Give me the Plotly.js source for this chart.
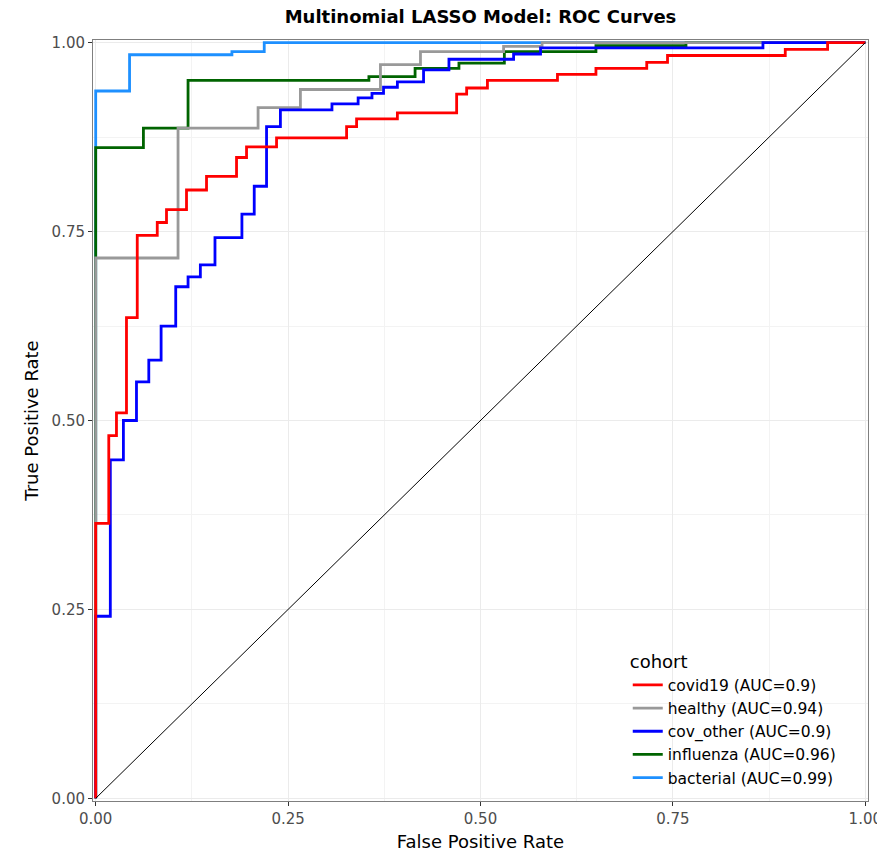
<!DOCTYPE html>
<html>
<head>
<meta charset="utf-8">
<script src="https://cdn.plot.ly/plotly-3.0.1.min.js"></script>
<style>html,body{margin:0;padding:0;background:#fff;}#chart{width:877px;height:852px;}</style>
</head>
<body>
<div id="chart"></div>
<script>
// ROC step vertices
const covid19Fpr = [0,0,0.017,0.017,0.027,0.027,0.040,0.040,0.054,0.054,0.080,0.080,0.092,0.092,0.118,0.118,0.144,0.144,0.183,0.183,0.196,0.196,0.235,0.235,0.326,0.326,0.339,0.339,0.392,0.392,0.469,0.469,0.482,0.482,0.509,0.509,0.600,0.600,0.650,0.650,0.716,0.716,0.743,0.743,0.896,0.896,0.951,0.951,1];
const covid19Tpr = [0,0.364,0.364,0.480,0.480,0.510,0.510,0.636,0.636,0.745,0.745,0.762,0.762,0.779,0.779,0.805,0.805,0.823,0.823,0.848,0.848,0.862,0.862,0.874,0.874,0.889,0.889,0.899,0.899,0.907,0.907,0.932,0.932,0.940,0.940,0.950,0.950,0.958,0.958,0.966,0.966,0.974,0.974,0.983,0.983,0.991,0.991,1,1];

const healthyFpr = [0,0,0.107,0.107,0.211,0.211,0.266,0.266,0.370,0.370,0.422,0.422,0.530,0.530,0.580,0.580,1];
const healthyTpr = [0,0.715,0.715,0.887,0.887,0.914,0.914,0.938,0.938,0.971,0.971,0.988,0.988,0.995,0.995,1,1];

const covOtherFpr = [0,0,0.019,0.019,0.036,0.036,0.053,0.053,0.069,0.069,0.085,0.085,0.104,0.104,0.120,0.120,0.136,0.136,0.155,0.155,0.190,0.190,0.206,0.206,0.222,0.222,0.240,0.240,0.307,0.307,0.341,0.341,0.359,0.359,0.374,0.374,0.392,0.392,0.426,0.426,0.459,0.459,0.543,0.543,0.578,0.578,0.867,0.867,1];
const covOtherTpr = [0,0.241,0.241,0.448,0.448,0.500,0.500,0.551,0.551,0.580,0.580,0.625,0.625,0.677,0.677,0.690,0.690,0.706,0.706,0.742,0.742,0.773,0.773,0.810,0.810,0.889,0.889,0.911,0.911,0.919,0.919,0.927,0.927,0.933,0.933,0.941,0.941,0.948,0.948,0.964,0.964,0.978,0.978,0.985,0.985,0.993,0.993,1,1];

const influenzaFpr = [0,0,0.062,0.062,0.120,0.120,0.355,0.355,0.415,0.415,0.472,0.472,0.531,0.531,0.650,0.650,0.767,0.767,1];
const influenzaTpr = [0,0.861,0.861,0.887,0.887,0.950,0.950,0.955,0.955,0.966,0.966,0.973,0.973,0.988,0.988,0.996,0.996,1,1];

const bacterialFpr = [0,0,0.044,0.044,0.177,0.177,0.219,0.219,1];
const bacterialTpr = [0,0.936,0.936,0.984,0.984,0.988,0.988,1,1];

const diagX = [0,1];
const diagY = [0,1];

const tickVals = [0,0.25,0.5,0.75,1];
const tickText = ["0.00","0.25","0.50","0.75","1.00"];

const FONT = "DejaVu Sans, Liberation Sans, Arial, sans-serif";

function roc(x, y, name, color, rank){
  return {x:x, y:y, type:'scatter', mode:'lines', name:name, legendrank:rank,
          line:{color:color, width:2.8}, hoverinfo:'x+y+name'};
}

const data = [
  roc(bacterialFpr, bacterialTpr, 'bacterial (AUC=0.99)', '#1E90FF', 5),
  roc(influenzaFpr, influenzaTpr, 'influenza (AUC=0.96)', '#006400', 4),
  roc(healthyFpr, healthyTpr, 'healthy (AUC=0.94)', '#999999', 2),
  roc(covOtherFpr, covOtherTpr, 'cov_other (AUC=0.9)', '#0000FF', 3),
  roc(covid19Fpr, covid19Tpr, 'covid19 (AUC=0.9)', '#FF0000', 1),
  {x:diagX, y:diagY, type:'scatter', mode:'lines', showlegend:false,
   line:{color:'#000000', width:1}, hoverinfo:'skip'}
];

const axisCommon = {
  range:[-0.0035,1.0035], tickvals:tickVals, ticktext:tickText,
  ticks:'outside', ticklen:4, tickwidth:1, tickcolor:'#333333',
  tickfont:{family:FONT, size:15, color:'#4D4D4D'},
  ticklabeloverflow:'allow',
  showgrid:true, gridcolor:'#EBEBEB', gridwidth:1,
  minor:{dtick:0.125, showgrid:true, gridcolor:'#F3F3F3', gridwidth:1, ticks:''},
  zeroline:false, showline:true, linecolor:'#7F7F7F', linewidth:1, mirror:true,
  automargin:false, fixedrange:true
};

const layout = {
  width:877, height:852,
  margin:{l:93, r:9, t:40, b:51},
  paper_bgcolor:'#FFFFFF', plot_bgcolor:'#FFFFFF',
  title:{text:'<b>Multinomial LASSO Model: ROC Curves</b>', font:{family:FONT, size:18, color:'#000000'},
         xref:'paper', x:0.5, xanchor:'center', yref:'container', y:0.98, yanchor:'middle'},
  xaxis:Object.assign({}, axisCommon, {title:{text:'False Positive Rate', font:{family:FONT, size:18, color:'#000000'}, standoff:8}}),
  yaxis:Object.assign({}, axisCommon, {title:{text:'True Positive Rate', font:{family:FONT, size:18, color:'#000000'}, standoff:8}}),
  showlegend:true,
  legend:{x:0.69, xanchor:'left', y:0.205, yanchor:'top', bgcolor:'rgba(255,255,255,0)',
          title:{text:'cohort', font:{family:FONT, size:18, color:'#000000'}},
          font:{family:FONT, size:15.5, color:'#000000'}, traceorder:'normal'}
};

Plotly.newPlot('chart', data, layout, {displayModeBar:false, staticPlot:true});
</script>
</body>
</html>
